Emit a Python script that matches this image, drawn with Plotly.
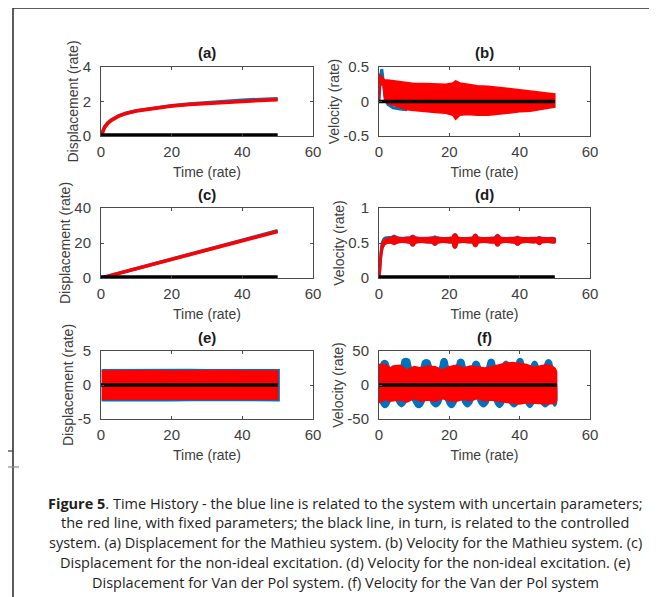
import plotly.graph_objects as go

W, H = 657, 597
PAGE_OFF = 8  # the browser body margin offsets the figure by 8 px

# ---------------- data ----------------
time_ticks = [0, 20, 40, 60]
time_range = [0, 60]

# (a) Mathieu displacement
a_t = [0, 0.5, 1, 2, 3, 5, 7, 10, 15, 20, 25, 30, 35, 40, 45, 50]
a_blue = [0, 0.32, 0.52, 0.78, 0.95, 1.17, 1.32, 1.47, 1.64, 1.76, 1.86, 1.94, 2.01, 2.07, 2.12, 2.16]
a_red = [0, 0.30, 0.50, 0.75, 0.92, 1.15, 1.30, 1.45, 1.62, 1.74, 1.83, 1.90, 1.96, 2.02, 2.06, 2.10]
ctrl_t = [0, 50]
ctrl_val = [0, 0]

# (b) Mathieu velocity
b_blue_t = [0, 0.4, 0.8, 1.2, 1.7, 2.5, 4, 6, 8]
b_blue = [0, 0.35, 0.47, 0.30, 0.08, -0.04, -0.09, -0.11, -0.12]
b_t = [0, 0.15, 0.4, 1.2, 1.6, 2.5, 4, 6, 8, 10, 13, 16, 19, 21, 21.8, 23, 25, 28, 31, 34, 37, 40, 43, 46, 48, 50]
b_red_hi = [0.02, 0.40, 0.38, 0.33, 0.31, 0.31, 0.30, 0.29, 0.27, 0.26, 0.26, 0.26, 0.25, 0.27, 0.30, 0.27,
            0.25, 0.23, 0.22, 0.21, 0.19, 0.17, 0.15, 0.13, 0.12, 0.11]
b_red_lo = [0, 0.0, 0.24, 0.24, 0.0, -0.03, -0.06, -0.09, -0.12, -0.13, -0.15, -0.16, -0.17, -0.20, -0.26, -0.20,
            -0.19, -0.20, -0.20, -0.19, -0.17, -0.15, -0.14, -0.12, -0.10, -0.08]

# (c) non-ideal displacement
c_t = [0, 10, 20, 30, 40, 50]
c_blue = [0, 5.4, 10.8, 16.2, 21.6, 27.0]
c_red = [0, 5.3, 10.6, 16.0, 21.3, 26.6]

# (d) non-ideal velocity (band edges, with bulges)
d_t = [0, 0.3, 0.7, 1.2, 2, 3,
       3.5, 3.9, 4.3, 4.7, 5.1, 6.5, 8.0,
       8.8, 9.2, 9.6, 10.0, 10.4, 12.0, 13.5,
       15.1, 15.5, 15.9, 16.3, 16.7, 18.2, 19.8,
       20.8, 21.2, 21.6, 22.0, 22.4, 24.0, 25.8,
       26.6, 27.0, 27.4, 27.8, 28.2, 29.8, 31.5,
       32.9, 33.3, 33.7, 34.1, 34.5, 36.0, 37.8,
       38.6, 39.0, 39.4, 39.8, 40.2, 42.0, 44.0,
       44.8, 45.2, 45.6, 46.0, 46.4, 48.0, 50]
d_red_hi = [0.05, 0.30, 0.46, 0.53, 0.56, 0.57,
            0.578, 0.59, 0.60, 0.59, 0.578, 0.57, 0.575,
            0.578, 0.595, 0.605, 0.595, 0.578, 0.57, 0.575,
            0.578, 0.58, 0.59, 0.58, 0.578, 0.57, 0.575,
            0.58, 0.62, 0.63, 0.62, 0.58, 0.57, 0.575,
            0.58, 0.61, 0.62, 0.61, 0.58, 0.57, 0.575,
            0.58, 0.605, 0.615, 0.605, 0.58, 0.57, 0.575,
            0.578, 0.58, 0.59, 0.58, 0.578, 0.57, 0.575,
            0.575, 0.578, 0.58, 0.578, 0.575, 0.57, 0.565]
d_red_lo = [0, 0.05, 0.30, 0.44, 0.49, 0.50,
            0.50, 0.49, 0.48, 0.49, 0.50, 0.51, 0.505,
            0.50, 0.47, 0.46, 0.47, 0.50, 0.51, 0.505,
            0.50, 0.48, 0.47, 0.48, 0.50, 0.51, 0.505,
            0.50, 0.44, 0.43, 0.44, 0.50, 0.51, 0.505,
            0.50, 0.46, 0.45, 0.46, 0.50, 0.51, 0.505,
            0.50, 0.47, 0.46, 0.47, 0.50, 0.51, 0.505,
            0.50, 0.48, 0.47, 0.48, 0.50, 0.51, 0.505,
            0.505, 0.49, 0.48, 0.49, 0.505, 0.51, 0.505]
d_blue_hi = [0.06, 0.34, 0.50, 0.56, 0.585, 0.59,
             0.59, 0.60, 0.61, 0.60, 0.59, 0.58, 0.585,
             0.585, 0.60, 0.61, 0.60, 0.585, 0.58, 0.58,
             0.585, 0.59, 0.60, 0.59, 0.585, 0.575, 0.58,
             0.585, 0.62, 0.63, 0.62, 0.585, 0.575, 0.58,
             0.585, 0.615, 0.625, 0.615, 0.585, 0.575, 0.58,
             0.585, 0.61, 0.62, 0.61, 0.585, 0.575, 0.58,
             0.58, 0.585, 0.595, 0.585, 0.58, 0.575, 0.58,
             0.58, 0.585, 0.59, 0.585, 0.58, 0.575, 0.575]

# (e) Van der Pol displacement
e_t = [0.2, 5, 10, 15, 20, 25, 30, 35, 40, 45, 50]
e_red_hi = [2.05, 2.10, 2.05, 2.10, 2.05, 2.10, 2.05, 2.10, 2.05, 2.10, 2.05]
e_red_lo = [-2.10, -2.05, -2.10, -2.05, -2.10, -2.05, -2.10, -2.05, -2.10, -2.05, -2.10]
e_blue_t = [0.2, 5, 10, 15, 20, 25, 30, 35, 40, 45, 50.4]
e_blue_hi = [2.26, 2.28, 2.25, 2.28, 2.26, 2.28, 2.25, 2.28, 2.26, 2.28, 2.26]
e_blue_lo = [-2.30, -2.28, -2.32, -2.28, -2.30, -2.28, -2.32, -2.28, -2.30, -2.28, -2.30]

# (f) Van der Pol velocity: blue upper envelope (bumps) ...
f_bu_t = [0, 0.3, 0.8, 1.6, 2.4, 2.9, 4.6,
          6.2, 6.7, 7.65, 8.6, 9.1, 10.55,
          12.0, 12.5, 13.45, 14.4, 14.9, 16.1,
          17.3, 17.8, 18.5, 19.2, 19.7, 20.85,
          22.0, 22.5, 23.25, 24.0, 24.5, 25.45,
          26.4, 26.9, 27.6, 28.3, 28.8, 29.75,
          30.7, 31.2, 31.9, 32.6, 33.1, 34.05,
          35.0, 35.5, 36.1, 36.7, 37.2, 38.05,
          38.9, 39.4, 40.1, 40.8, 41.3, 42.25,
          43.2, 43.7, 44.25, 44.8, 45.3, 46.15,
          47.0, 47.5, 48.2, 48.9, 49.4, 50.0]
f_bu = [24, 27, 34, 36, 34, 27, 16,
        27, 37, 39, 37, 27, 16,
        27, 35, 37, 35, 27, 16,
        27, 37, 39, 37, 27, 16,
        27, 36, 38, 36, 27, 16,
        27, 33, 35, 33, 27, 16,
        27, 36, 38, 36, 27, 16,
        27, 33, 35, 33, 27, 16,
        27, 37, 39, 37, 27, 16,
        27, 33, 35, 33, 27, 16,
        27, 35, 37, 35, 27, 24]
# ... and blue lower envelope (troughs)
f_bl_t = [0, 0.5, 1.0, 1.7, 2.4, 2.9, 4.1,
          5.3, 5.8, 6.4, 7.0, 7.5, 8.75,
          10.0, 10.5, 11.3, 12.1, 12.6, 13.75,
          14.9, 15.4, 16.15, 16.9, 17.4, 18.4,
          19.4, 19.9, 20.6, 21.3, 21.8, 22.9,
          24.0, 24.5, 25.15, 25.8, 26.3, 27.4,
          28.5, 29.0, 29.7, 30.4, 30.9, 32.0,
          33.1, 33.6, 34.25, 34.9, 35.4, 36.3,
          37.2, 37.7, 38.4, 39.1, 39.6, 40.7,
          41.8, 42.3, 42.9, 43.5, 44.0, 45.05,
          46.1, 46.6, 47.25, 47.9, 48.4, 48.9,
          49.4, 49.9, 50.4]
f_bl = [-24, -27, -31, -33, -31, -27, -16,
        -27, -30, -32, -30, -27, -16,
        -27, -31, -33, -31, -27, -16,
        -27, -30, -32, -30, -27, -16,
        -27, -31, -33, -31, -27, -16,
        -27, -30, -32, -30, -27, -16,
        -27, -30, -32, -30, -27, -16,
        -27, -31, -33, -31, -27, -16,
        -27, -30, -32, -30, -27, -16,
        -27, -31, -33, -31, -27, -16,
        -27, -30, -32, -30, -27, -20,
        -27, -31, -28]
f_t = [0, 2, 3, 4, 6, 8, 10, 12, 14, 16, 18, 20, 22, 24, 26, 28, 30, 32, 34, 36, 38, 40, 42, 44, 46, 48, 50, 50.5]
f_red_hi = [30, 30, 24, 28, 29, 22, 27, 25, 28, 27, 22, 27, 29, 25, 28, 26, 25, 27, 30, 32, 33, 32, 30, 26, 28, 30, 25, 20]
f_red_lo = [-26, -21, -24, -23, -22, -25, -20, -24, -22, -24, -20, -23, -24, -21, -23, -20, -23, -22, -24, -25,
            -27, -28, -26, -26, -27, -28, -27, -23]
f_ctrl_t = [0, 50.5]

panel_titles = ["(a)", "(b)", "(c)", "(d)", "(e)", "(f)"]
x_title = "Time (rate)"
y_titles = ["Displacement (rate)", "Velocity (rate)"] * 3
y_ranges = [[0, 4], [-0.5, 0.5], [0, 40], [0, 1], [-5, 5], [-50, 50]]
y_tickvals = [[0, 2, 4], [-0.5, 0, 0.5], [0, 20, 40], [0, 0.5, 1], [-5, 0, 5], [-50, 0, 50]]
y_ticktext = [["0", "2", "4"], ["-0.5", "0", "0.5"], ["0", "20", "40"], ["0", "0.5", "1"],
              ["-5", "0", "5"], ["-50", "0", "50"]]

caption_lines = [
    "<b>Figure 5</b>. Time History - the blue line is related to the system with uncertain parameters;",
    "the red line, with fixed parameters; the black line, in turn, is related to the controlled",
    "system. (a) Displacement for the Mathieu system. (b) Velocity for the Mathieu system. (c)",
    "Displacement for the non-ideal excitation. (d) Velocity for the non-ideal excitation. (e)",
    "Displacement for Van der Pol system. (f) Velocity for the Van der Pol system",
]

# ---------------- styling ----------------
BLUE = "#0072BD"
RED = "#FF0000"
BLACK = "#000000"
AX = "#4a4a4a"
TXT = "#3d3d3d"
FONT = "Liberation Sans, Arial, sans-serif"

col_px = [(101, 313), (379, 590)]
row_px = [(67, 136), (208, 278), (351, 419)]


def px_x(p):
    return (p - PAGE_OFF) / W


def px_y(p):
    return 1 - (p - PAGE_OFF) / H


fig = go.Figure()


def ax_id(i):
    return "" if i == 0 else str(i + 1)


def line(i, x, y, color, width, shape="linear"):
    fig.add_trace(go.Scatter(x=x, y=y, mode="lines", line=dict(color=color, width=width, shape=shape),
                             xaxis="x" + ax_id(i), yaxis="y" + ax_id(i), showlegend=False,
                             hoverinfo="skip"))


def band(i, xhi, hi, xlo, lo, color, shape="linear", smoothing=1.0):
    xs = list(xhi) + list(xlo)[::-1]
    ys = list(hi) + list(lo)[::-1]
    fig.add_trace(go.Scatter(x=xs, y=ys, mode="lines", fill="toself", fillcolor=color,
                             line=dict(color=color, width=1.5, shape=shape, smoothing=smoothing),
                             xaxis="x" + ax_id(i), yaxis="y" + ax_id(i), showlegend=False,
                             hoverinfo="skip"))


# (a)
line(0, a_t, a_blue, BLUE, 3.5)
line(0, a_t, a_red, RED, 3.5)
line(0, ctrl_t, ctrl_val, BLACK, 5.5)
# (b)
line(1, b_blue_t, b_blue, BLUE, 3)
band(1, b_t, b_red_hi, b_t, b_red_lo, RED)
line(1, ctrl_t, ctrl_val, BLACK, 3.5)
# (c)
line(2, c_t, c_blue, BLUE, 3.5)
line(2, c_t, c_red, RED, 3.5)
line(2, ctrl_t, ctrl_val, BLACK, 5.5)
# (d)
band(3, d_t, d_blue_hi, d_t, d_red_lo, BLUE, shape="spline", smoothing=0.8)
band(3, d_t, d_red_hi, d_t, d_red_lo, RED, shape="spline", smoothing=0.8)
line(3, ctrl_t, ctrl_val, BLACK, 5.5)
# (e)
band(4, e_blue_t, e_blue_hi, e_blue_t, e_blue_lo, BLUE)
band(4, e_t, e_red_hi, e_t, e_red_lo, RED)
line(4, ctrl_t, ctrl_val, BLACK, 3.5)
# (f)
band(5, f_bu_t, f_bu, f_bl_t, f_bl, BLUE, shape="spline", smoothing=0.8)
band(5, f_t, f_red_hi, f_t, f_red_lo, RED)
line(5, f_ctrl_t, ctrl_val, BLACK, 3.5)

layout = dict(
    template="none",
    width=W, height=H, margin=dict(l=0, r=0, t=0, b=0, pad=0, autoexpand=False),
    paper_bgcolor="white", plot_bgcolor="white", showlegend=False,
    font=dict(family=FONT, color=TXT),
)

annotations = []
for i in range(6):
    r, c = divmod(i, 2)
    x0, x1 = col_px[c]
    y0, y1 = row_px[r]
    common = dict(showline=True, linecolor=AX, linewidth=1, mirror="ticks", ticks="inside", ticklen=3,
                  tickcolor=AX, tickwidth=1, showgrid=False, zeroline=False, fixedrange=True,
                  automargin=False, tickfont=dict(family=FONT, size=15, color=TXT))
    xa = dict(domain=[px_x(x0), px_x(x1)], range=time_range, tickvals=time_ticks,
              ticktext=[str(v) for v in time_ticks], anchor="y" + ax_id(i), ticklabelstandoff=2,
              title=dict(text=x_title, font=dict(family=FONT, size=14, color=TXT), standoff=8),
              **common)
    ya = dict(domain=[px_y(y1), px_y(y0)], range=y_ranges[i], tickvals=y_tickvals[i],
              ticktext=y_ticktext[i], anchor="x" + ax_id(i), ticklabelstandoff=6,
              title=dict(text=y_titles[i], font=dict(family=FONT, size=14, color=TXT), standoff=0),
              **common)
    layout["xaxis" + ax_id(i)] = xa
    layout["yaxis" + ax_id(i)] = ya
    annotations.append(dict(text="<b>" + panel_titles[i] + "</b>", x=px_x((x0 + x1) / 2),
                            y=px_y(y0 - 14), xref="paper", yref="paper", showarrow=False,
                            xanchor="center", yanchor="middle",
                            font=dict(family=FONT, size=15, color="#1a1a1a")))

for k, txt in enumerate(caption_lines):
    annotations.append(dict(text=txt, x=px_x(345), y=px_y(503 + 19.8 * k), xref="paper", yref="paper",
                            showarrow=False, xanchor="center", yanchor="middle",
                            font=dict(family="Open Sans, Noto Sans, sans-serif", size=14.5, color="#1e1e1e")))

shapes = [
    dict(type="line", xref="paper", yref="paper", x0=px_x(13), x1=px_x(13), y0=px_y(8), y1=px_y(600),
         line=dict(color="#262626", width=1.5)),
    dict(type="line", xref="paper", yref="paper", x0=px_x(13), x1=px_x(654), y0=px_y(8), y1=px_y(8),
         line=dict(color="#262626", width=1.5)),
    dict(type="line", xref="paper", yref="paper", x0=px_x(654), x1=px_x(654), y0=px_y(8), y1=px_y(600),
         line=dict(color="#262626", width=1.5)),
    dict(type="line", xref="paper", yref="paper", x0=px_x(4), x1=px_x(13), y0=px_y(451), y1=px_y(451),
         line=dict(color="#333333", width=1.2)),
    dict(type="line", xref="paper", yref="paper", x0=px_x(0), x1=px_x(19), y0=px_y(467), y1=px_y(467),
         line=dict(color="#8a8a8a", width=1.2)),
]

layout["annotations"] = annotations
layout["shapes"] = shapes
fig.update_layout(**layout)
fig.write_html("out.html")
